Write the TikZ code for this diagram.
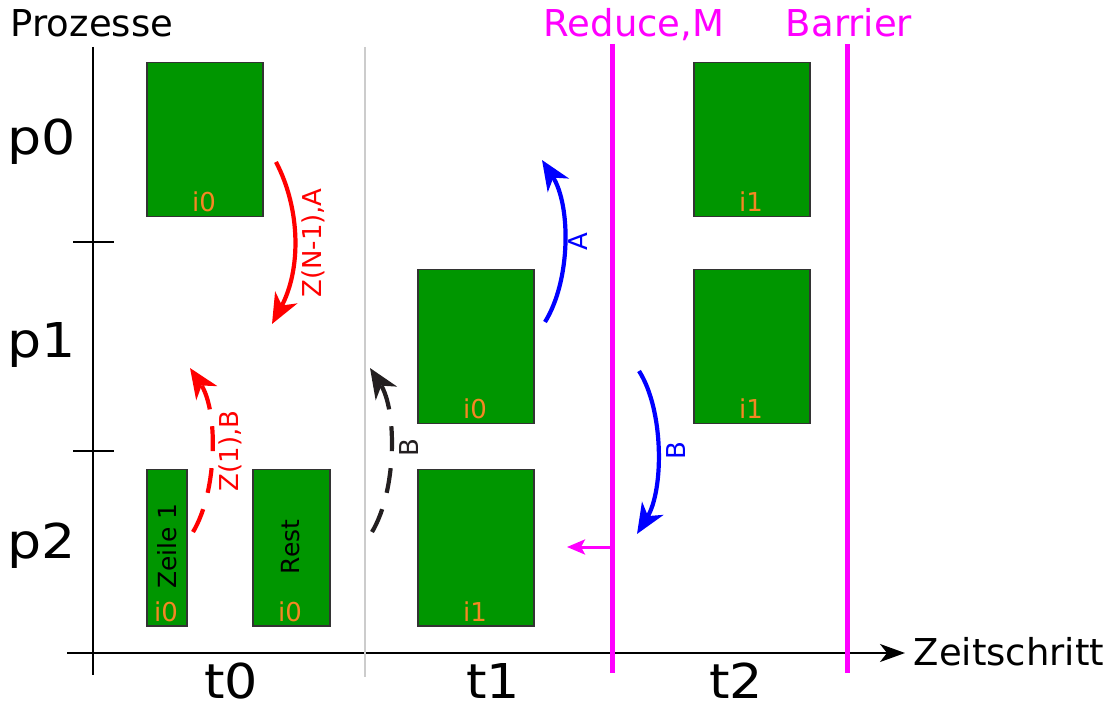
\documentclass[tikz,border=0pt]{standalone}
\usepackage{fontspec}
\setmainfont{DejaVu Sans}
\usetikzlibrary{arrows.meta}
\definecolor{boxgreen}{RGB}{0,150,0}
\definecolor{boxborder}{RGB}{51,51,51}
\definecolor{lblorange}{RGB}{245,135,35}
\definecolor{darkline}{RGB}{35,31,32}
\definecolor{gridgray}{RGB}{204,204,204}
\definecolor{magline}{RGB}{255,0,255}
\begin{document}
\begin{tikzpicture}[x=1pt,y=-1pt,
  gbox/.style={draw=boxborder,fill=boxgreen,line width=1.5pt,anchor=north west,inner sep=0pt},
  ilabel/.style={text=lblorange,font=\fontsize{26}{30}\selectfont,anchor=base,inner sep=0pt},
  inlabel/.style={font=\fontsize{25}{28}\selectfont,rotate=90,inner sep=0pt},
  arlabel/.style={font=\fontsize{26}{28}\selectfont,rotate=90,inner sep=0pt},
  bigl/.style={font=\fontsize{48}{56}\selectfont,inner sep=0pt,anchor=base},
  midl/.style={font=\fontsize{37}{40}\selectfont,inner sep=0pt,anchor=base},
  curv/.style={line width=4.2pt,-{Stealth[length=30pt,width=25pt,inset=9pt]}},
  dsh/.style={dash pattern=on 25pt off 17pt},
  mag/.style={draw=magline,line width=5pt}
]
\useasboundingbox (0,0) rectangle (1117,708);

% axes
\coordinate (ytop) at (93,47);
\coordinate (ybot) at (93,675);
\draw[line width=2pt] (ytop) -- (ybot);
\coordinate (xl) at (67,653);
\coordinate (xr) at (905,653);
\draw[line width=2pt,-{Stealth[length=25pt,width=18pt,inset=7pt]}] (xl) -- (xr);
\coordinate (t1a) at (73,242); \coordinate (t1b) at (114,242);
\coordinate (t2a) at (73,451); \coordinate (t2b) at (114,451);
\draw[line width=1.5pt] (t1a) -- (t1b);
\draw[line width=1.5pt] (t2a) -- (t2b);

% separator
\coordinate (sa) at (365,47); \coordinate (sb) at (365,677);
\draw[gridgray,line width=2pt] (sa) -- (sb);

% magenta lines
\coordinate (ra) at (612,44); \coordinate (rb) at (612,673);
\coordinate (ba) at (847,44); \coordinate (bb) at (847,673);
\draw[mag] (ra) -- (rb);
\draw[mag] (ba) -- (bb);
\coordinate (ms) at (612,547); \coordinate (me) at (567,547);
\draw[magline,line width=3pt,-{Stealth[length=18pt,width=15pt,inset=4pt]}] (ms) -- (me);

% labels
\node[midl] (proz) at (92,37) {Prozesse};
\node[midl,text=magline] (red) at (634,37) {Reduce,M};
\node[midl,text=magline] (bar) at (849,37) {Barrier};
\node[midl] (zeit) at (1009,665) {Zeitschritt};
\node[bigl,xscale=1.12] (p0) at (42,155) {p0};
\node[bigl,xscale=1.12] (p1) at (42,358) {p1};
\node[bigl,xscale=1.12] (p2) at (42,558) {p2};
\node[bigl,xscale=1.09] (lt0) at (231,698) {t0};
\node[bigl,xscale=1.09] (lt1) at (493,698) {t1};
\node[bigl,xscale=1.09] (lt2) at (736,698) {t2};

% boxes
\node[gbox,minimum width=116pt,minimum height=154pt] (b00) at (146,62) {};
\node[ilabel] at (204,212) {i0};
\node[gbox,minimum width=116pt,minimum height=154pt] (b02) at (693,62) {};
\node[ilabel] at (751,212) {i1};
\node[gbox,minimum width=116pt,minimum height=154pt] (b11) at (417,269) {};
\node[ilabel] at (475,419) {i0};
\node[gbox,minimum width=116pt,minimum height=154pt] (b12) at (693,269) {};
\node[ilabel] at (751,419) {i1};
\node[gbox,minimum width=40pt,minimum height=156pt] (bz) at (146,469) {};
\node[ilabel] at (166,621) {i0};
\node[inlabel] at (167,546) {Zeile 1};
\node[gbox,minimum width=77pt,minimum height=156pt] (br) at (252,469) {};
\node[ilabel] at (290,621) {i0};
\node[inlabel] at (291,547) {Rest};
\node[gbox,minimum width=116pt,minimum height=156pt] (b21) at (417,469) {};
\node[ilabel] at (475,621) {i1};

% curved arrows
\coordinate (r1s) at (276,162); \coordinate (r1e) at (272,324);
\draw[red,curv] (r1s) .. controls (301,210) and (301,270) .. (r1e);
\node[arlabel,text=red] at (313,243) {Z(N-1),A};

\coordinate (r2s) at (193,532); \coordinate (r2e) at (190,368);
\draw[red,curv,dsh] (r2s) .. controls (218,490) and (218,410) .. (r2e);
\node[arlabel,text=red] at (230,451) {Z(1),B};

\coordinate (k1s) at (372,532); \coordinate (k1e) at (370,368);
\draw[darkline,curv,dsh] (k1s) .. controls (397,490) and (397,410) .. (k1e);
\node[arlabel,text=darkline] at (409,448) {B};

\coordinate (a1s) at (545,322); \coordinate (a1e) at (542,160);
\draw[blue,curv] (a1s) .. controls (571,280) and (571,205) .. (a1e);
\node[arlabel,text=blue] at (578,242) {A};

\coordinate (b1s) at (639,371); \coordinate (b1e) at (637,534);
\draw[blue,curv] (b1s) .. controls (664,410) and (664,490) .. (b1e);
\node[arlabel,text=blue] at (676,451) {B};
\end{tikzpicture}
\end{document}
